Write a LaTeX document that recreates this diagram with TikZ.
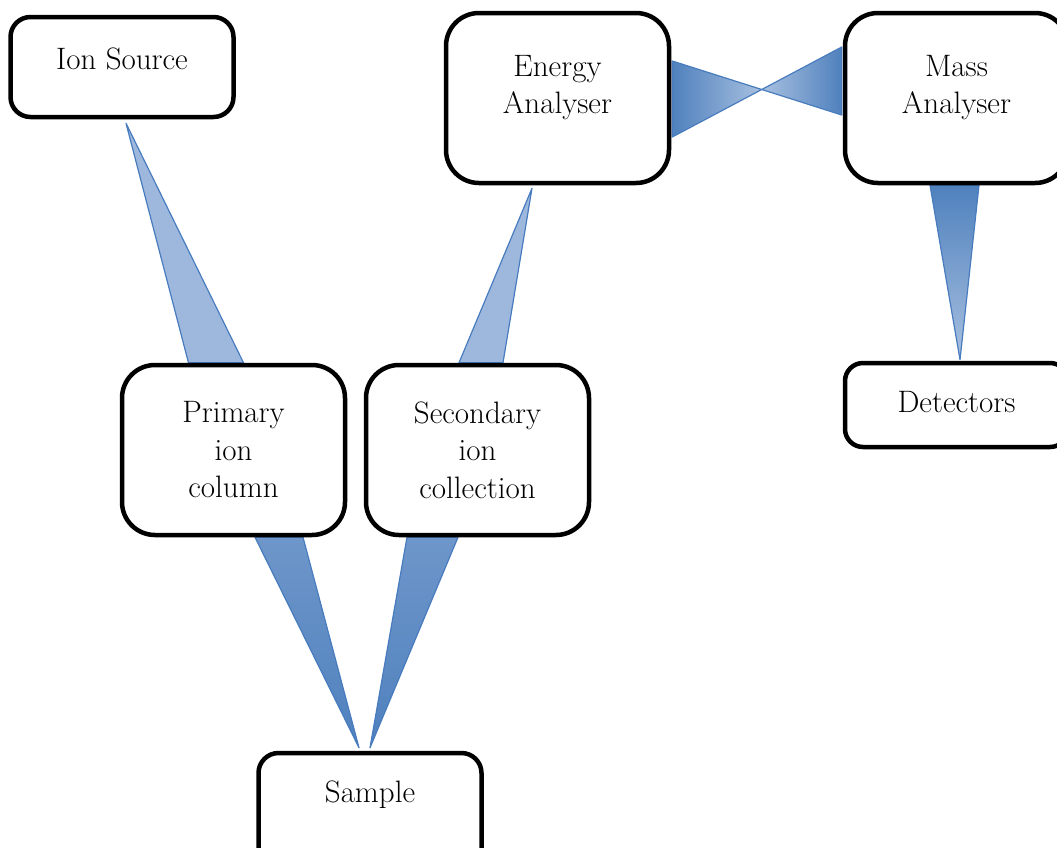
\documentclass[tikz,border=0pt]{standalone}
\usepackage{tikz}
\usetikzlibrary{calc, backgrounds}
\definecolor{beamdk}{RGB}{79,129,189}
\definecolor{beamlt}{RGB}{168,192,224}
\definecolor{beampl}{RGB}{157,184,220}
\definecolor{beammd}{RGB}{110,150,202}
\definecolor{beamln}{RGB}{72,124,190}
\tikzset{
  box/.style   ={draw, rectangle, line width=4.5pt, fill=white, rounded corners=#1, inner sep=0pt,
                 minimum width=223pt, align=center, font=\fontsize{31}{37.5}\selectfont},
  box/.default =33pt,
  beam/.style  ={draw=beamln, line width=1.2pt, line join=round},
  beamP/.style ={beam, fill=beampl},
  beamdn/.style={beam, top color=beammd, bottom color=beamdk},
  beamup/.style={beam, top color=beamdk, bottom color=beamlt},
  beamL/.style ={beam, left color=beamdk, right color=beamlt},
  beamR/.style ={beam, left color=beamlt, right color=beamdk},
}

\begin{document}
\begin{tikzpicture}[x=1pt, y=-1pt]
  \useasboundingbox (0,0) rectangle (1057,847);
  \node[box=20pt, minimum height=100pt, text depth=17pt] (src) at (122,67) {Ion Source};
  \node[box, minimum height=170pt, text depth=26.7pt] (ener) at (557.5,98) {Energy\\Analyser};
  \node[box, minimum height=170pt, text depth=26.7pt] (mass) at (956.5,98) {Mass\\Analyser};
  \node[box, minimum height=170pt] (prim) at (233.5,450) {Primary\\ion\\column};
  \node[box, minimum height=170pt] (sec) at (477.5,450) {Secondary\\ion\\collection};
  \node[box=18pt, minimum height=84pt, text depth=5.5pt] (det) at (956.5,405) {Detectors};
  \node[box=20pt, minimum height=130pt, text depth=52pt] (samp) at (370,818) {Sample};

  \begin{scope}[on background layer]
    \path[beamP]  ($(src.south)+(4,4)$) -- ($(prim.north)+(-45,0)$) -- ($(prim.north)+(10,0)$) -- cycle;
    \path[beamP]  ($(ener.south)+(-25.5,3)$) -- ($(sec.north)+(-18.5,0)$) -- ($(sec.north)+(25.5,0)$) -- cycle;
    \path[beamdn] ($(prim.south)+(21.5,0)$) -- ($(prim.south)+(69.5,0)$) -- ($(samp.north)+(-11,-3)$) -- cycle;
    \path[beamdn] ($(sec.south)+(-70.5,0)$) -- ($(sec.south)+(-19.5,0)$) -- ($(samp.north)+(0,-3)$) -- cycle;
    \path[beamup] ($(mass.south)+(-26.5,0)$) -- ($(mass.south)+(22.5,0)$) -- ($(det.north)+(3.5,-1)$) -- cycle;
    \coordinate (eA) at ($(ener.east)+(1,-37)$);
    \coordinate (eB) at ($(ener.east)+(1,39)$);
    \coordinate (mA) at ($(mass.west)+(-1,-51)$);
    \coordinate (mB) at ($(mass.west)+(-1,17)$);
    \coordinate (xing) at (intersection of eA--mB and eB--mA);
    \path[beamL] (eA) -- (xing) -- (eB) -- cycle;
    \path[beamR] (mA) -- (xing) -- (mB) -- cycle;
  \end{scope}
\end{tikzpicture}
\end{document}
